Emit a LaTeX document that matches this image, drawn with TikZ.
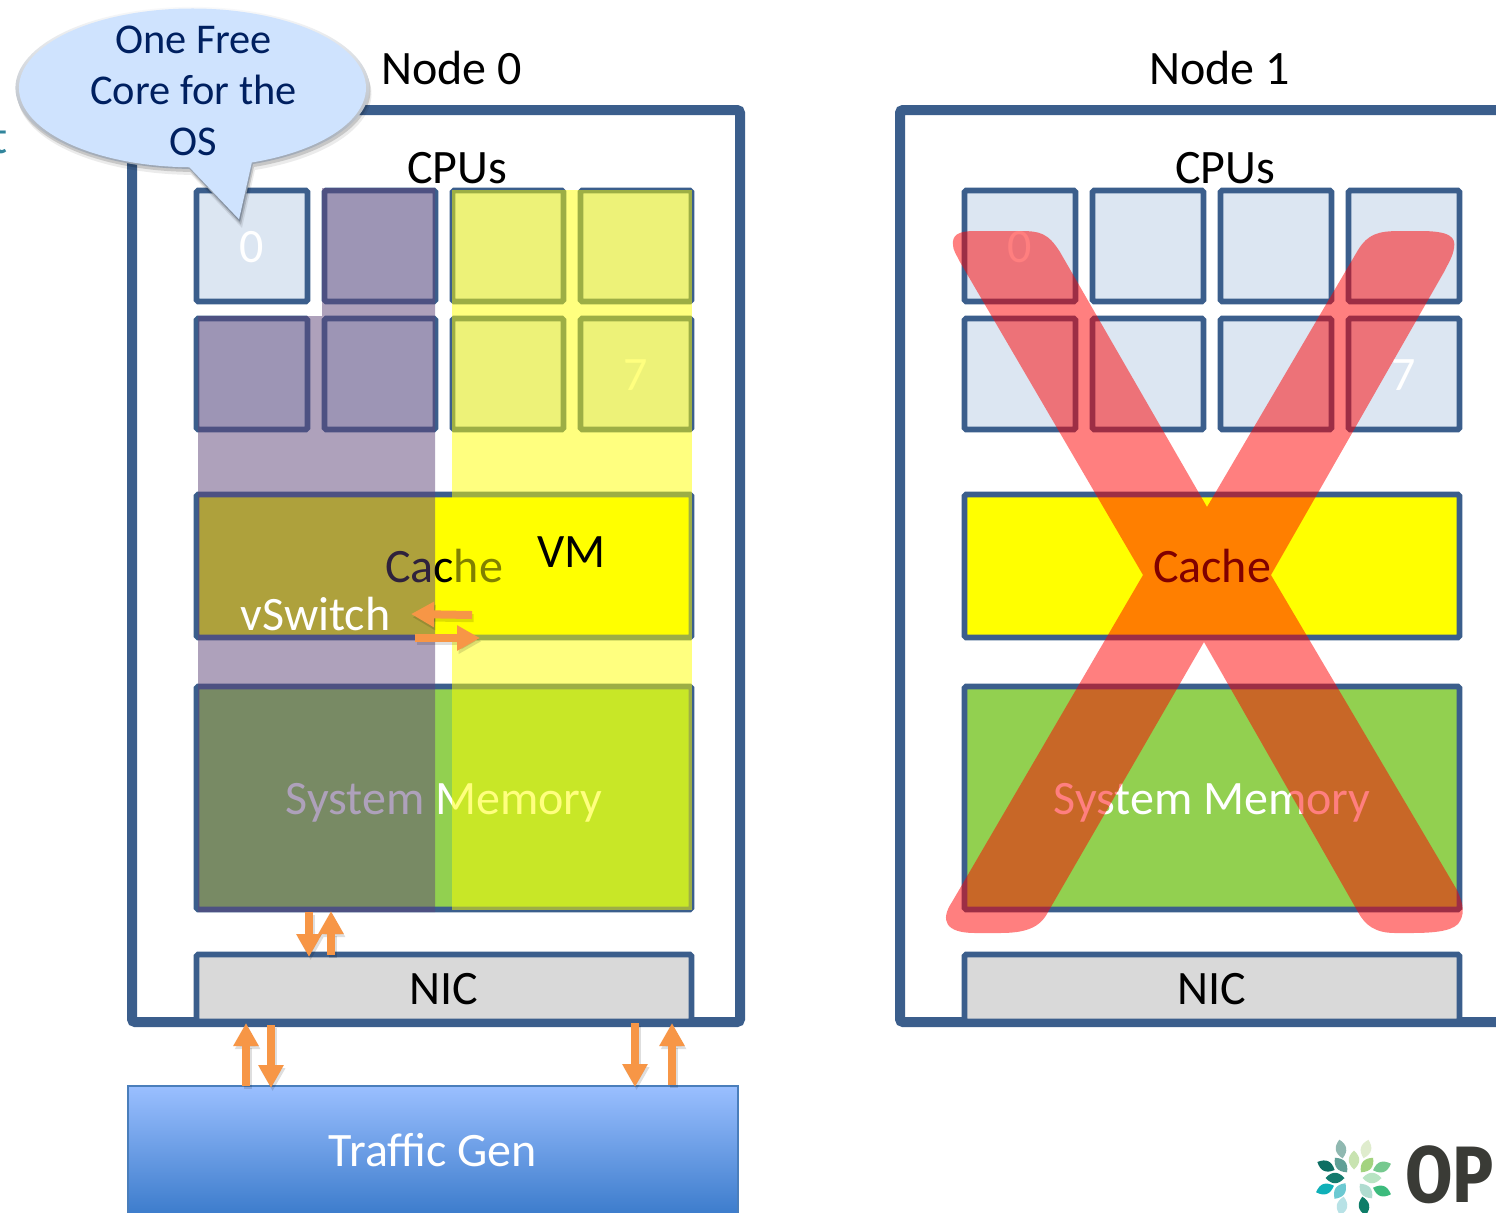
\documentclass[tikz,border=0pt]{standalone}
\usepackage{fontspec}
\setmainfont{Carlito}
\newfontfamily\logofont{Fira Sans}
\usetikzlibrary{arrows.meta}
\definecolor{frameblue}{HTML}{3B5E8C}
\definecolor{cellfill}{HTML}{DCE6F2}
\definecolor{memgreen}{HTML}{92D050}
\definecolor{nicgray}{HTML}{D9D9D9}
\definecolor{vsw}{HTML}{5F4579}
\definecolor{blockorange}{HTML}{F79646}
\definecolor{calloutfill}{HTML}{CFE3FE}
\definecolor{callouttext}{HTML}{002060}
\definecolor{gentop}{HTML}{9ABFFF}
\definecolor{genbot}{HTML}{3B7BCB}
\definecolor{genline}{HTML}{4A7EBB}
\definecolor{cutteal}{HTML}{31859C}
\definecolor{logotext}{HTML}{3A3B36}
\definecolor{pureyellow}{RGB}{255,255,0}
\definecolor{purered}{RGB}{255,0,0}
\tikzset{
  box/.style={draw=frameblue,line width=2.8pt,rounded corners=.8pt,inner sep=0pt,
     text height=16pt,text depth=0pt,font=\fontsize{24}{28}\selectfont},
  cpucell/.style={box,fill=cellfill,text=white,minimum width=55.5pt,minimum height=55.5pt},
  cachebox/.style={box,fill=pureyellow,minimum width=247.5pt,minimum height=71.5pt},
  membox/.style={box,fill=memgreen,text=white,minimum width=247.5pt,minimum height=111.5pt},
  nicbox/.style={box,fill=nicgray,minimum width=247.5pt,minimum height=33.5pt},
  frameline/.style={draw=frameblue,line width=5pt,rounded corners=1.5pt},
  caption/.style={inner sep=0pt,text height=15.6pt,text depth=0pt,font=\fontsize{24}{28}\selectfont},
  blockarrow/.style={draw=blockorange,line width=4pt,
     -{Triangle[length=11.5pt,width=12pt]}},
  blockshadow/.style={draw=black,opacity=.13,line width=4pt,
     -{Triangle[length=11.5pt,width=12pt]}},
}
\newcommand{\flowarrow}[2]{%
  \draw[blockshadow,transform canvas={shift={(.8pt,-1.6pt)}}] (#1) -- (#2);
  \draw[blockarrow] (#1) -- (#2);}
\newcommand{\petal}[4]{% x y angle colour
  \definecolor{petalc}{HTML}{#4}%
  \fill[petalc,shift={(#1,#2)},rotate=#3]
    (-9.5,0) .. controls (-3,7) and (3,7) .. (9.5,0)
    .. controls (3,-7) and (-3,-7) .. (-9.5,0) -- cycle;}
\newcommand{\calloutshape}{(253,164) arc[start angle=-70,end angle=269,x radius=88.5pt,y radius=40.5pt] -- (240,222) -- cycle}
\begin{document}
\begin{tikzpicture}[x=.5pt,y=-.5pt]
\useasboundingbox (0,0) rectangle (1496,1212);
\clip (0,0) rectangle (1496,1212);
\fill[white] (0,0) rectangle (1496,1212);

% cut-off text at the left edge
\node[anchor=base east,inner sep=0pt,text=cutteal,font=\fontsize{24}{28}\selectfont] (cutoff) at (8,153) {t};

% frames
\draw[frameline] (132,110) rectangle (740,1022);
\draw[frameline] (900,110) rectangle (1508,1022);

% titles
\node[caption] (title0) at (451.5,69) {Node 0};
\node[caption] (title1) at (1219.5,69) {Node 1};
\node[caption] (cpus0) at (457,168) {CPUs};
\node[caption] (cpus1) at (1225,168) {CPUs};

% node 0 cells
\node[cpucell] (a1) at (252,246) {0};
\node[cpucell] (a2) at (380,246) {};
\node[cpucell] (a3) at (508,246) {};
\node[cpucell] (a4) at (636,246) {};
\node[cpucell] (a5) at (252,374) {};
\node[cpucell] (a6) at (380,374) {};
\node[cpucell] (a7) at (508,374) {};
\node[cpucell] (a8) at (636,374) {7};
% node 1 cells
\node[cpucell] (b1) at (1020,246) {0};
\node[cpucell] (b2) at (1148,246) {};
\node[cpucell] (b3) at (1276,246) {};
\node[cpucell] (b4) at (1404,246) {};
\node[cpucell] (b5) at (1020,374) {};
\node[cpucell] (b6) at (1148,374) {};
\node[cpucell] (b7) at (1276,374) {};
\node[cpucell] (b8) at (1404,374) {7};

\node[cachebox] (cache0) at (444,566) {Cache};
\node[cachebox] (cache1) at (1212,566) {Cache};
\node[membox] (mem0) at (444,798) {System Memory};
\node[membox] (mem1) at (1212,798) {System Memory};
\node[nicbox] (nic0) at (444,988) {NIC};
\node[nicbox] (nic1) at (1212,988) {NIC};

% traffic generator
\node[draw=genline,line width=.7pt,top color=gentop,bottom color=genbot,text=white,
      minimum width=305pt,minimum height=65pt,inner sep=0pt,text height=15.6pt,text depth=0pt,
      font=\fontsize{24}{28}\selectfont] (gen) at (433,1151) {Traffic Gen};

% overlays
\fill[vsw,opacity=.5] (322,188) -- (435,188) -- (435,912) -- (198,912) -- (198,316) -- (322,316) -- cycle;
\fill[pureyellow,opacity=.5] (452,190) rectangle (692,910);

% the big cross
\fill[purered,opacity=.5]
  (953,245) .. controls (952,235) and (958,231) .. (975,231) -- (1020,231)
  .. controls (1040,231) and (1048,233) .. (1060,252) -- (1207,507) -- (1358,250)
  .. controls (1368,234) and (1378,231) .. (1400,231) -- (1420,231)
  .. controls (1450,231) and (1456,237) .. (1454,248)
  .. controls (1453,256) and (1449,262) .. (1444,272) -- (1271,575) -- (1457,890)
  .. controls (1464,905) and (1465,915) .. (1458,924)
  .. controls (1450,932) and (1430,933) .. (1410,933) -- (1395,933)
  .. controls (1375,933) and (1365,925) .. (1358,912) -- (1204,642) -- (1048,912)
  .. controls (1040,928) and (1025,933) .. (1000,933) -- (975,933)
  .. controls (945,933) and (940,920) .. (952,902) -- (1143,575) -- (960,262)
  .. controls (956,254) and (953,250) .. (953,245) -- cycle;

% labels over the overlays
\node[caption] (vm) at (571.5,552) {VM};
\node[caption,text=white] (vswitch) at (315.5,615) {vSwitch};

% flow arrows
\coordinate (g0) at (472,615); \coordinate (g1) at (411,614);
\coordinate (h0) at (415,638); \coordinate (h1) at (480,638);
\coordinate (m0) at (309,912); \coordinate (m1) at (309,957);
\coordinate (n0) at (331,955); \coordinate (n1) at (331,911);
\coordinate (c0) at (246,1086); \coordinate (c1) at (246,1023);
\coordinate (d0) at (271,1025); \coordinate (d1) at (271,1088);
\coordinate (e0) at (635,1023); \coordinate (e1) at (635,1087);
\coordinate (f0) at (672,1085); \coordinate (f1) at (672,1023);
\flowarrow{g0}{g1}
\flowarrow{h0}{h1}
\flowarrow{m0}{m1}
\flowarrow{n0}{n1}
\flowarrow{c0}{c1}
\flowarrow{d0}{d1}
\flowarrow{e0}{e1}
\flowarrow{f0}{f1}

% callout
\fill[black,opacity=.08,shift={(2,6)}] \calloutshape;
\fill[black,opacity=.15,shift={(1,3)}] \calloutshape;
\shade[top color=white,bottom color=black!40!calloutfill] \calloutshape;
\fill[calloutfill,scale around={.98:(192.5,88)}] \calloutshape;
\node[align=center,inner sep=0pt,text=callouttext,font=\fontsize{21.2}{25.5}\selectfont] (callout) at (193.5,90.5)
  {One Free\\Core for the\\OS};

% logo
\petal{1341}{1149}{100}{8FB8B0}
\petal{1366}{1149}{75}{DFECCD}
\petal{1354}{1160}{90}{C8E3B0}
\petal{1326}{1166}{-25}{0D6E63}
\petal{1341}{1165}{-50}{5F9F96}
\petal{1367}{1165}{50}{A3D37F}
\petal{1382}{1167}{20}{76C98F}
\petal{1335}{1178}{0}{137A6D}
\petal{1372}{1178}{0}{B8E4C3}
\petal{1325}{1189}{20}{0FB0B8}
\petal{1340}{1191}{55}{6CC9D2}
\petal{1366}{1191}{-50}{B0DCD0}
\petal{1382}{1191}{-20}{3DBB7D}
\petal{1342}{1206}{80}{B8E2E6}
\petal{1364}{1206}{100}{0E7D68}
\node[anchor=base west,inner sep=0pt,text=logotext,xscale=.86,transform shape,font=\logofont\bfseries\fontsize{40}{44}\selectfont] (logo) at (1405,1202) {OP};
\end{tikzpicture}
\end{document}
